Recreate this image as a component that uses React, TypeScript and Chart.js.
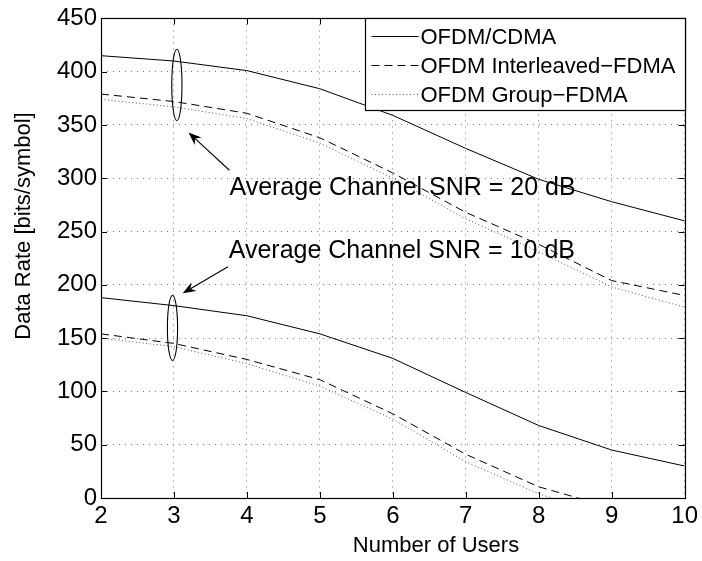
import React, { useEffect, useRef } from "react";
import { Chart, registerables } from "chart.js";

Chart.register(...registerables);

// Number of users on the x axis
const users = [2, 3, 4, 5, 6, 7, 8, 9, 10];

// Data rate [bits/symbol], average channel SNR = 20 dB
const cdma20 = [415, 410, 401, 384, 359, 328, 299, 278, 260];
const interleaved20 = [379, 372, 361, 338, 305, 268, 238, 204, 190];
const group20 = [374, 367, 356, 333, 300, 262, 231, 198, 179];

// Data rate [bits/symbol], average channel SNR = 10 dB
const cdma10 = [188, 180.5, 171, 154, 131, 99, 68, 45, 30];
const interleaved10 = [154, 145, 130, 111, 79, 41, 10.5, -9, -28];
const group10 = [150, 142, 126, 105, 74, 34, 4, -20, -40];

const seriesNames = ["OFDM/CDMA", "OFDM Interleaved\u2212FDMA", "OFDM Group\u2212FDMA"];
const yTickValues = [0, 50, 100, 150, 200, 250, 300, 350, 400, 450];
const xTitle = "Number of Users";
const yTitle = "Data Rate [bits/symbol]";

// Callouts: text, its anchor, arrow and the ellipse grouping the curves at 3 users
const snrLabels = ["Average Channel SNR = 20 dB", "Average Channel SNR = 10 dB"];
const labelAnchors = [
  [3.76, 284],
  [3.75, 225],
];
const arrowTails = [
  [3.76, 307.5],
  [3.74, 217],
];
const arrowTips = [
  [3.2, 343],
  [3.12, 192],
];
const ellipseCenterX = [3.04, 2.98];
const ellipseSpan = [
  [421, 354],
  [190, 129],
];

const FONT = '"Liberation Sans", Arial, Helvetica, sans-serif';
const lineStyles = [
  { dash: [] as number[], color: "#000000" },
  { dash: [8, 5], color: "#000000" },
  { dash: [1, 2.5], color: "#555555" },
];

const toPoints = (vals: number[]) => users.map((u, i) => ({ x: u, y: vals[i] }));

const framePlugin = {
  id: "frameAndNotes",
  afterDatasetsDraw(chart: any) {
    const { ctx, chartArea: a, scales } = chart;
    const xs = scales.x;
    const ys = scales.y;
    ctx.save();

    // inward tick marks on all four sides
    ctx.strokeStyle = "#000";
    ctx.lineWidth = 1;
    ctx.setLineDash([]);
    ctx.beginPath();
    for (const v of yTickValues) {
      const py = Math.round(ys.getPixelForValue(v)) + 0.5;
      ctx.moveTo(a.left, py);
      ctx.lineTo(a.left + 6, py);
      ctx.moveTo(a.right, py);
      ctx.lineTo(a.right - 6, py);
    }
    for (const u of users) {
      const px = Math.round(xs.getPixelForValue(u)) + 0.5;
      ctx.moveTo(px, a.bottom);
      ctx.lineTo(px, a.bottom - 6);
      ctx.moveTo(px, a.top);
      ctx.lineTo(px, a.top + 6);
    }
    ctx.stroke();

    // axes box
    ctx.lineWidth = 1.2;
    ctx.strokeRect(
      Math.round(a.left) + 0.5,
      Math.round(a.top) + 0.5,
      Math.round(a.right - a.left),
      Math.round(a.bottom - a.top)
    );

    // axis titles
    ctx.fillStyle = "#000";
    ctx.font = `22px ${FONT}`;
    ctx.textAlign = "center";
    ctx.textBaseline = "middle";
    ctx.fillText(xTitle, 436, 546);
    ctx.save();
    ctx.translate(24, 226);
    ctx.rotate(-Math.PI / 2);
    ctx.fillText(yTitle, 0, 0);
    ctx.restore();

    // ellipses
    ctx.lineWidth = 1.1;
    for (let i = 0; i < ellipseCenterX.length; i++) {
      const cx = xs.getPixelForValue(ellipseCenterX[i]);
      const top = ys.getPixelForValue(ellipseSpan[i][0]);
      const bot = ys.getPixelForValue(ellipseSpan[i][1]);
      const rx = xs.getPixelForValue(ellipseCenterX[i] + 0.07) - cx;
      ctx.beginPath();
      ctx.ellipse(cx, (top + bot) / 2, rx, (bot - top) / 2, 0, 0, Math.PI * 2);
      ctx.stroke();
    }

    // arrows
    for (let i = 0; i < arrowTails.length; i++) {
      const tx = xs.getPixelForValue(arrowTails[i][0]);
      const ty = ys.getPixelForValue(arrowTails[i][1]);
      const hx = xs.getPixelForValue(arrowTips[i][0]);
      const hy = ys.getPixelForValue(arrowTips[i][1]);
      const ang = Math.atan2(hy - ty, hx - tx);
      const len = 13;
      const half = 5;
      const notch = 9;
      const ux = Math.cos(ang);
      const uy = Math.sin(ang);
      ctx.lineWidth = 1.1;
      ctx.beginPath();
      ctx.moveTo(tx, ty);
      ctx.lineTo(hx - ux * notch, hy - uy * notch);
      ctx.stroke();
      ctx.fillStyle = "#000";
      ctx.beginPath();
      ctx.moveTo(hx, hy);
      ctx.lineTo(hx - ux * len - uy * half, hy - uy * len + ux * half);
      ctx.lineTo(hx - ux * notch, hy - uy * notch);
      ctx.lineTo(hx - ux * len + uy * half, hy - uy * len - ux * half);
      ctx.closePath();
      ctx.fill();
    }

    // callout texts
    ctx.fillStyle = "#000";
    ctx.font = `25px ${FONT}`;
    ctx.textAlign = "left";
    ctx.textBaseline = "alphabetic";
    for (let i = 0; i < snrLabels.length; i++) {
      ctx.fillText(
        snrLabels[i],
        xs.getPixelForValue(labelAnchors[i][0]),
        ys.getPixelForValue(labelAnchors[i][1])
      );
    }

    // legend box in the upper right corner
    const boxW = 320;
    const boxH = 92;
    const left = Math.round(a.right - boxW) + 0.5;
    const top = Math.round(a.top) + 0.5;
    ctx.fillStyle = "#fff";
    ctx.fillRect(left, top, boxW, boxH);
    ctx.strokeStyle = "#000";
    ctx.lineWidth = 1.2;
    ctx.strokeRect(left, top, boxW, boxH);
    ctx.font = `22px ${FONT}`;
    ctx.textBaseline = "middle";
    const rows = [17, 46.5, 75];
    for (let i = 0; i < seriesNames.length; i++) {
      const ry = Math.round(top + rows[i]) + 0.5;
      ctx.strokeStyle = lineStyles[i].color;
      ctx.lineWidth = 1;
      ctx.setLineDash(lineStyles[i].dash);
      ctx.beginPath();
      ctx.moveTo(left + 6, ry);
      ctx.lineTo(left + 53, ry);
      ctx.stroke();
      ctx.setLineDash([]);
      ctx.fillStyle = "#000";
      ctx.fillText(seriesNames[i], left + 55, ry + 1);
    }
    ctx.restore();
  },
};

export default function App() {
  const canvasRef = useRef<HTMLCanvasElement | null>(null);

  useEffect(() => {
    if (!canvasRef.current) return;
    const groups = [
      [cdma20, interleaved20, group20],
      [cdma10, interleaved10, group10],
    ];
    const datasets: any[] = [];
    groups.forEach((g, gi) => {
      g.forEach((vals, si) => {
        datasets.push({
          label: `${seriesNames[si]} (${gi === 0 ? 20 : 10} dB)`,
          data: toPoints(vals),
          borderColor: lineStyles[si].color,
          borderDash: lineStyles[si].dash,
          borderWidth: 1,
          pointRadius: 0,
          fill: false,
          tension: 0,
        });
      });
    });

    const chart = new Chart(canvasRef.current, {
      type: "line",
      data: { datasets },
      plugins: [framePlugin],
      options: {
        animation: false,
        responsive: false,
        layout: { padding: { top: 15, right: 15, left: 0, bottom: 0 } },
        plugins: { legend: { display: false }, tooltip: { enabled: false } },
        scales: {
          x: {
            type: "linear",
            min: 2,
            max: 10,
            afterFit: (s: any) => {
              s.height = 63;
            },
            ticks: {
              stepSize: 1,
              color: "#000",
              padding: 4,
              font: { family: FONT, size: 24 },
              maxRotation: 0,
            },
            grid: { color: "#7a7a7a", lineWidth: 1, drawTicks: false },
            border: { display: false, dash: [1, 5] },
          },
          y: {
            type: "linear",
            min: 0,
            max: 450,
            afterFit: (s: any) => {
              s.width = 101;
            },
            ticks: {
              stepSize: 50,
              color: "#000",
              padding: 4,
              font: { family: FONT, size: 24 },
            },
            grid: { color: "#7a7a7a", lineWidth: 1, drawTicks: false },
            border: { display: false, dash: [1, 5] },
          },
        },
      },
    });
    return () => chart.destroy();
  }, []);

  return (
    <div style={{ position: "absolute", left: 0, top: 0, width: 702, height: 561, background: "#fff" }}>
      <canvas ref={canvasRef} width={702} height={561} />
    </div>
  );
}
